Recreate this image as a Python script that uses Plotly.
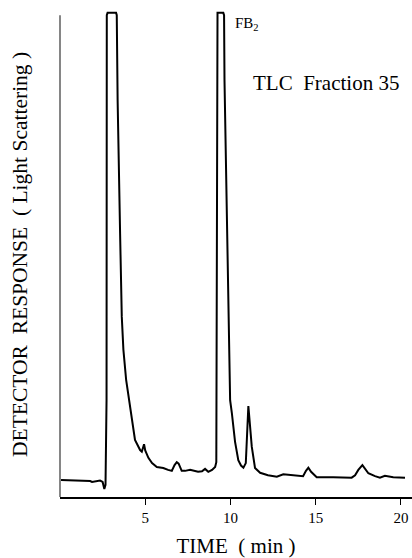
import plotly.graph_objects as go

# Chromatogram trace (time in min, detector response in arbitrary units; 100 = off-scale)
time_min = [0.06, 0.89, 1.47, 1.77, 1.88, 2.06, 2.35, 2.50, 2.60, 2.67, 2.73, 2.745,
            2.79, 3.29, 3.33, 3.38, 3.425, 3.525, 3.625, 3.72, 3.88, 4.05, 4.11, 4.40,
            4.70, 4.80, 4.93, 5.00, 5.185, 5.40, 5.68, 6.06, 6.34, 6.56, 6.72, 6.85,
            6.96, 7.14, 7.34, 7.63, 8.10, 8.33, 8.51, 8.70, 8.92, 9.10, 9.17, 9.185,
            9.20, 9.24, 9.58, 9.625, 9.65, 9.72, 9.88, 9.935, 9.98, 10.08, 10.27, 10.46,
            10.62, 10.76, 10.90, 11.05, 11.25, 11.44, 11.74, 12.20, 12.72, 13.10, 13.89,
            14.26, 14.43, 14.57, 14.73, 15.06, 16.02, 17.11, 17.31, 17.50, 17.74, 17.89,
            18.09, 18.48, 18.77, 19.06, 19.55, 20.24]
response = [3.5, 3.4, 3.3, 3.3, 3.1, 3.2, 3.4, 3.1, 1.65, 2.5, 20.0, 99.5,
            100.0, 100.0, 99.5, 82.0, 71.7, 54.5, 37.2, 30.4, 24.2, 20.0, 18.0, 11.8,
            9.7, 9.35, 10.9, 9.6, 8.1, 7.0, 6.2, 6.0, 5.6, 5.4, 6.6, 7.2,
            6.9, 5.4, 5.4, 5.6, 5.2, 5.3, 5.8, 5.2, 5.6, 6.2, 7.2, 40.7,
            99.5, 100.0, 100.0, 99.5, 86.2, 71.7, 37.2, 24.2, 20.0, 17.4, 11.4, 7.6,
            6.5, 6.05, 7.0, 18.8, 10.4, 6.0, 5.0, 4.5, 4.2, 4.7, 4.5,
            4.3, 5.4, 6.05, 5.2, 4.07, 4.07, 4.0, 4.5, 5.6, 6.6, 5.8,
            4.9, 4.3, 4.0, 4.4, 4.1, 4.0]

tick_vals = [5, 10, 15, 20]
tick_text = ["5", "10", "15", "20"]

SERIF = "Liberation Serif"

fig = go.Figure()
fig.add_trace(go.Scatter(x=time_min, y=response, mode="lines",
                         line=dict(color="black", width=2), hoverinfo="skip",
                         showlegend=False))

fig.add_shape(type="line", xref="paper", x0=0, x1=0, yref="y", y0=0, y1=99.5,
              line=dict(color="#444", width=1.3))

fig.add_annotation(text="FB<sub>2</sub>", x=10.15, y=100, xref="x", yref="y",
                   xanchor="left", yanchor="top", showarrow=False,
                   font=dict(family=SERIF, size=15, color="black"))
fig.add_annotation(text="TLC\u00a0\u00a0Fraction 35", x=15.61, y=85.5, xref="x", yref="y",
                   xanchor="center", yanchor="middle", showarrow=False,
                   font=dict(family=SERIF, size=21, color="black"))
fig.add_annotation(text="DETECTOR\u00a0\u00a0RESPONSE\u00a0\u00a0(\u00a0Light Scattering\u00a0)",
                   x=-0.1136, y=0.495, xref="paper", yref="paper", textangle=-90,
                   xanchor="center", yanchor="middle", showarrow=False,
                   font=dict(family=SERIF, size=21.5, color="black"))

fig.update_layout(
    width=412, height=558,
    margin=dict(l=60, r=0, t=8, b=61),
    paper_bgcolor="white", plot_bgcolor="white",
    font=dict(family=SERIF, color="black"),
    xaxis=dict(range=[0, 20.65], showgrid=False, zeroline=False,
               showline=True, linecolor="black", linewidth=1.5,
               ticks="outside", ticklen=6, tickwidth=1.2, tickcolor="black",
               tickvals=tick_vals, ticktext=tick_text,
               tickfont=dict(family=SERIF, size=15, color="black"),
               title=dict(text="TIME\u00a0\u00a0(\u00a0min\u00a0)", standoff=14,
                          font=dict(family=SERIF, size=21, color="black"))),
    yaxis=dict(range=[0, 101], showgrid=False, zeroline=False, showline=False,
               showticklabels=False, ticks=""),
)

fig.write_html("out.html", config={"displayModeBar": False},
               post_script="document.body.style.margin='0';document.body.style.overflow='hidden';")
